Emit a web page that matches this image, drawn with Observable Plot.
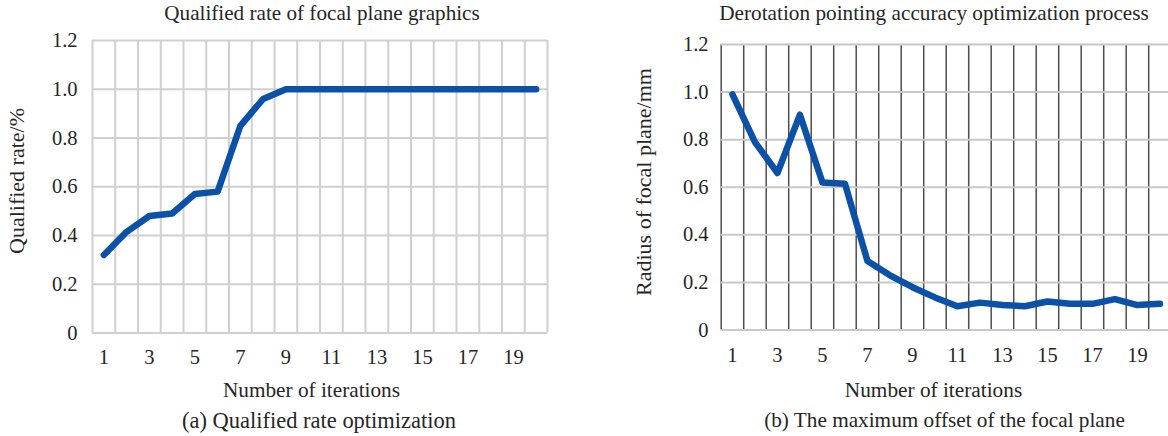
<!DOCTYPE html>
<html><head><meta charset="utf-8">
<script src="https://cdn.jsdelivr.net/npm/d3@7"></script>
<script src="https://cdn.jsdelivr.net/npm/@observablehq/plot@0.6"></script>
<style>
body{margin:0;background:#fff;}
#wrap{position:relative;width:1168px;height:436px;overflow:hidden;font-family:"Liberation Serif","Times New Roman",serif;color:#262626;}
.t{position:absolute;white-space:nowrap;transform:translate(-50%,-50%);}
.yl{position:absolute;white-space:nowrap;transform:translate(-50%,-50%) rotate(-90deg);}
#wrap svg{position:absolute;top:0;}
#wrap svg text{font-family:"Liberation Serif","Times New Roman",serif !important;font-variant-numeric:normal !important;}
</style></head>
<body><div id="wrap"></div>
<script>
const iterations = [1,2,3,4,5,6,7,8,9,10,11,12,13,14,15,16,17,18,19,20];
const qualifiedRate = [0.32,0.415,0.48,0.49,0.57,0.58,0.85,0.96,1,1,1,1,1,1,1,1,1,1,1,1];
const focalRadius = [0.99,0.79,0.66,0.905,0.62,0.615,0.29,0.23,0.18,0.137,0.10,0.115,0.105,0.10,0.12,0.11,0.11,0.13,0.105,0.11];
const xTickLabels = [1,3,5,7,9,11,13,15,17,19];
const yTicks = [0,0.2,0.4,0.6,0.8,1.0,1.2];
const yTickLabels = ["0","0.2","0.4","0.6","0.8","1.0","1.2"];

const titleA = "Qualified rate of focal plane graphics";
const titleB = "Derotation pointing accuracy optimization process";
const xLabel = "Number of iterations";
const yLabelA = "Qualified rate/%";
const yLabelB = "Radius of focal plane/mm";
const captionA = "(a) Qualified rate optimization";
const captionB = "(b) The maximum offset of the focal plane";

const FONT = "Liberation Serif, Times New Roman, serif";
const edges = iterations.map(d => d - 0.5).concat([iterations[iterations.length - 1] + 0.5]);

function chart(values, o) {
  const data = iterations.map((it, i) => ({it, v: values[i]}));
  return Plot.plot({
    width: o.width, height: 436,
    marginLeft: o.ml, marginRight: o.mr, marginTop: o.mt, marginBottom: o.mb,
    style: {fontFamily: FONT, fontSize: "20px", color: "#262626", background: "transparent"},
    x: {domain: [edges[0], edges[edges.length - 1]]},
    y: {domain: [0, 1.2]},
    marks: [
      Plot.ruleX(edges, {stroke: o.vColor, strokeWidth: o.vWidth}),
      Plot.ruleY(yTicks, {stroke: o.hColor, strokeWidth: 2}),
      Plot.line(data, {x: "it", y: "v", stroke: "#0b51a7", strokeWidth: 6.5, strokeLinejoin: "round", strokeLinecap: "round"}),
      Plot.axisX(xTickLabels, {tickSize: 0, tickPadding: o.xpad, label: null, fontSize: 20.5, fontFamily: FONT, fill: "#262626"}),
      Plot.axisY(yTicks, {tickSize: 0, tickPadding: o.ypad, label: null, fontSize: 20.5, fontFamily: FONT, fill: "#262626", tickFormat: d => yTickLabels[yTicks.indexOf(d)]})
    ]
  });
}

const wrap = document.getElementById("wrap");
const a = chart(qualifiedRate, {width: 580, ml: 92, mr: 33, mt: 40, mb: 103.5, vColor: "#d0d0d0", vWidth: 2, hColor: "#d0d0d0", xpad: 16.5, ypad: 15});
a.style.left = "0px";
wrap.appendChild(a);
const b = chart(focalRadius, {width: 600, ml: 140.7, mr: 9.3, mt: 44, mb: 106.5, vColor: "#4d4d4d", vWidth: 1.5, hColor: "#c8c8c8", xpad: 17.5, ypad: 12.7});
b.style.left = "580px";
wrap.appendChild(b);

// Texts sized so their width matches the reference span (fit), centred on given point
function addText(txt, x, y, cls, fs, fitWidth) {
  const d = document.createElement("div");
  d.className = cls; d.textContent = txt;
  d.style.left = x + "px"; d.style.top = y + "px";
  d.style.fontSize = fs + "px"; d.style.lineHeight = fs + "px";
  wrap.appendChild(d);
  if (fitWidth) {
    const w = d.offsetWidth;
    if (w > 0) {
      const f = Math.max(18, Math.min(24, fs * fitWidth / w));
      d.style.fontSize = f + "px"; d.style.lineHeight = f + "px";
    }
  }
}
addText(titleA, 322, 13.5, "t", 21.5, 316);
addText(xLabel, 311.5, 391, "t", 21.5, 177);
addText(captionA, 319, 420.5, "t", 22, 274);
addText(yLabelA, 17, 181, "yl", 22);
addText(titleB, 934, 13.5, "t", 21.3, 430);
addText(xLabel, 933.5, 391, "t", 21.3, 177);
addText(captionB, 944.5, 421, "t", 21.3, 361);
addText(yLabelB, 644, 182, "yl", 22);
</script>
</body></html>
